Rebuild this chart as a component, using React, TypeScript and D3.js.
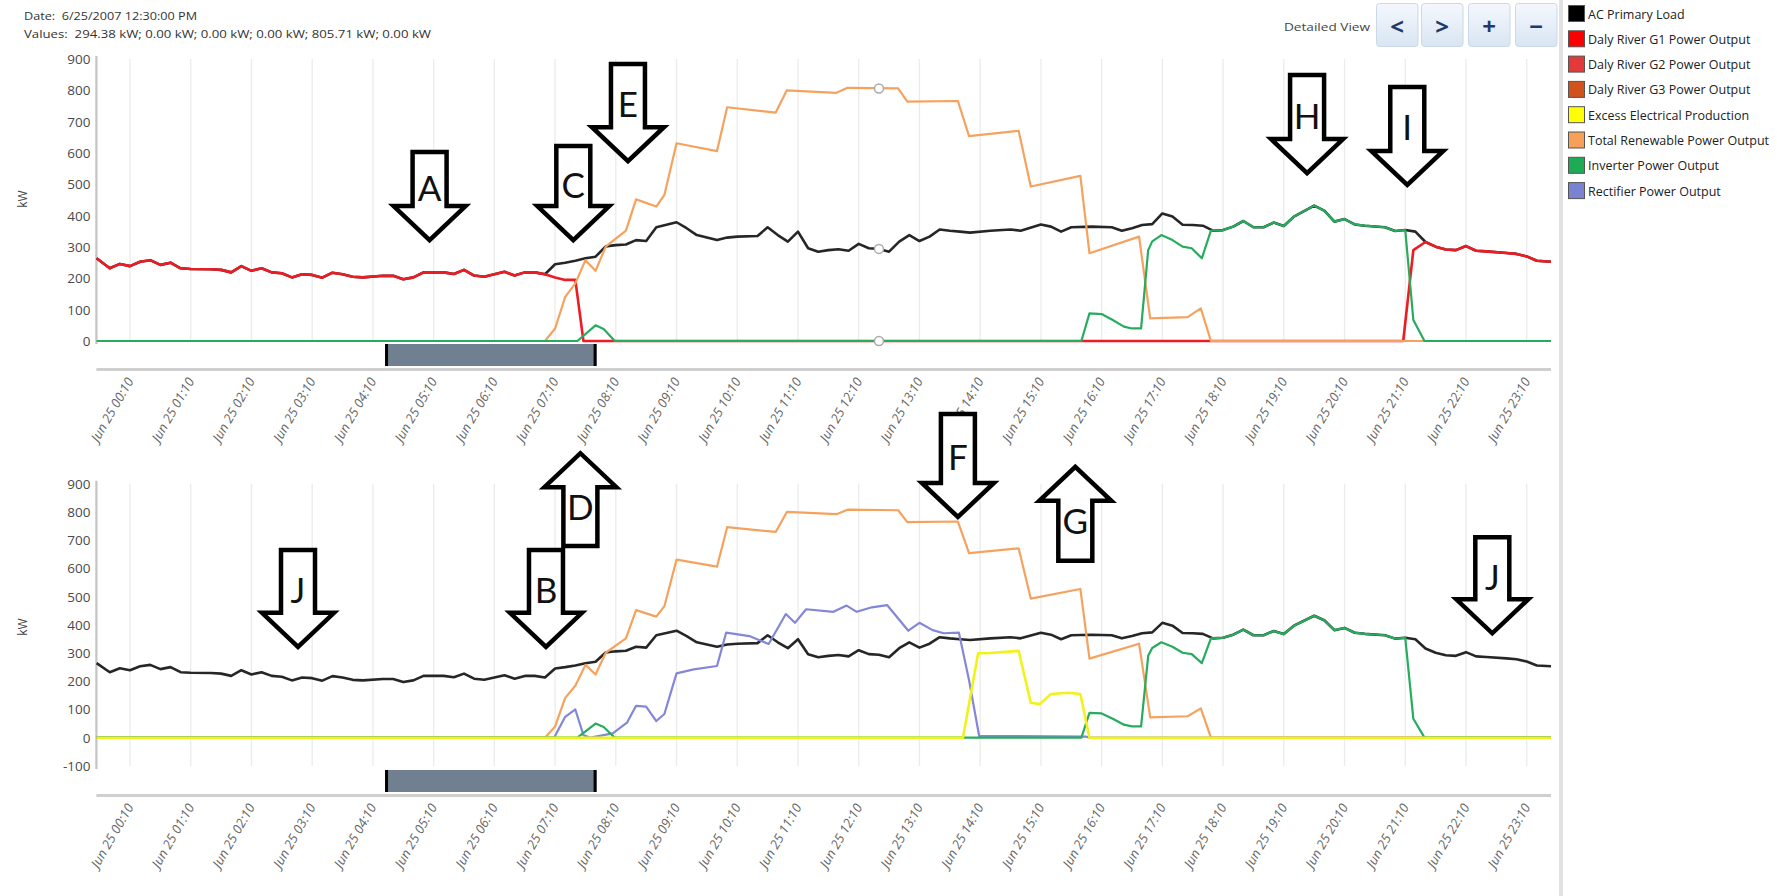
import React from "react";
import * as d3 from "d3";

type Pt = [number, number];

// ---------- DATA (time in minutes from midnight Jun 25, value in kW) ----------
const tickMinutes = d3.range(10, 1400, 60);
const tickLabels = [
  "Jun 25 00:10", "Jun 25 01:10", "Jun 25 02:10", "Jun 25 03:10", "Jun 25 04:10", "Jun 25 05:10",
  "Jun 25 06:10", "Jun 25 07:10", "Jun 25 08:10", "Jun 25 09:10", "Jun 25 10:10", "Jun 25 11:10",
  "Jun 25 12:10", "Jun 25 13:10", "Jun 25 14:10", "Jun 25 15:10", "Jun 25 16:10", "Jun 25 17:10",
  "Jun 25 18:10", "Jun 25 19:10", "Jun 25 20:10", "Jun 25 21:10", "Jun 25 22:10", "Jun 25 23:10",
];
const yTicksTop = [0, 100, 200, 300, 400, 500, 600, 700, 800, 900];
const yTicksBottom = [-100, 0, 100, 200, 300, 400, 500, 600, 700, 800, 900];

const acPrimaryLoad: Pt[] = [
  [-23, 264], [-10, 232], [0, 246], [10, 239], [20, 253], [30, 258], [40, 243], [50, 250], [60, 232], [70, 230],
  [90, 229], [100, 227], [110, 219], [120, 239], [130, 224], [140, 232], [150, 219], [160, 216], [170, 203], [180, 213],
  [190, 211], [200, 202], [210, 218], [220, 213], [230, 205], [240, 203], [260, 208], [270, 208], [280, 197], [290, 203],
  [300, 219], [320, 219], [330, 214], [340, 227], [350, 209], [360, 205], [380, 221], [390, 209], [400, 219], [410, 219],
  [420, 213], [430, 245], [440, 250], [450, 256], [460, 264], [470, 269], [480, 302], [490, 306], [500, 308], [510, 322],
  [520, 319], [530, 363], [550, 379], [560, 360], [570, 338], [590, 322], [600, 330], [610, 333], [630, 335], [640, 363],
  [650, 338], [660, 317], [670, 349], [680, 296], [690, 285], [700, 290], [710, 293], [720, 288], [730, 310], [740, 296],
  [750, 294], [760, 285], [770, 317], [780, 338], [790, 319], [800, 333], [810, 356], [820, 352], [830, 349], [840, 346],
  [860, 352], [880, 356], [890, 352], [910, 372], [920, 365], [930, 349], [940, 363], [960, 365], [980, 363], [990, 352],
  [1000, 360], [1010, 370], [1020, 373], [1030, 407], [1040, 397], [1050, 371], [1060, 370], [1070, 368], [1080, 352],
  [1090, 354], [1100, 365], [1110, 383], [1120, 363], [1130, 363], [1140, 378], [1150, 367], [1160, 397], [1180, 432],
  [1190, 416], [1200, 381], [1210, 389], [1220, 372], [1230, 368], [1250, 363], [1260, 351], [1270, 354], [1280, 349],
  [1290, 316], [1300, 301], [1310, 292], [1320, 290], [1330, 303], [1340, 288], [1350, 286], [1370, 281], [1380, 278],
  [1390, 270], [1400, 256], [1414, 253],
];

const dalyRiverG1: Pt[] = [
  [-23, 264], [-10, 232], [0, 246], [10, 239], [20, 253], [30, 258], [40, 243], [50, 250], [60, 232], [70, 230],
  [90, 229], [100, 227], [110, 219], [120, 239], [130, 224], [140, 232], [150, 219], [160, 216], [170, 203], [180, 213],
  [190, 211], [200, 202], [210, 218], [220, 213], [230, 205], [240, 203], [260, 208], [270, 208], [280, 197], [290, 203],
  [300, 219], [320, 219], [330, 214], [340, 227], [350, 209], [360, 205], [380, 221], [390, 209], [400, 219], [410, 219],
  [420, 213], [430, 203], [440, 195], [450, 195], [458, 0], [1268, 0], [1278, 290], [1290, 316], [1300, 301],
  [1310, 292], [1320, 290], [1330, 303], [1340, 288], [1350, 286], [1370, 281], [1380, 278], [1390, 270], [1400, 256],
  [1414, 253],
];

const totalRenewable: Pt[] = [
  [-23, 0], [420, 0], [430, 40], [440, 141], [450, 184], [460, 258], [470, 224], [480, 301], [500, 352], [510, 452],
  [530, 429], [538, 466], [550, 631], [590, 606], [600, 746], [648, 729], [659, 800], [708, 792], [719, 808], [769, 806],
  [778, 764], [828, 766], [839, 654], [888, 671], [900, 493], [949, 527], [958, 280], [1007, 333], [1018, 72],
  [1055, 76], [1068, 104], [1078, 0], [1414, 0],
];

const inverterOutput: Pt[] = [
  [-23, 0], [452, 0], [470, 50], [478, 38], [489, 0], [950, 0], [958, 88], [970, 86], [981, 67], [992, 46], [1000, 40],
  [1009, 40], [1016, 290], [1020, 318], [1029, 338], [1040, 322], [1050, 301], [1059, 296], [1069, 264], [1078, 352],
  [1090, 354], [1100, 365], [1110, 383], [1120, 363], [1130, 363], [1140, 378], [1150, 367], [1160, 397], [1180, 432],
  [1190, 416], [1200, 381], [1210, 389], [1220, 372], [1230, 368], [1250, 363], [1260, 351], [1270, 354], [1278, 67],
  [1289, 0], [1414, 0],
];

const rectifierOutput: Pt[] = [
  [-23, 0], [429, 0], [440, 74], [450, 100], [458, 9], [465, 0], [487, 15], [501, 53], [510, 113], [520, 110],
  [530, 59], [538, 84], [550, 228], [567, 242], [590, 254], [599, 372], [622, 360], [641, 332], [658, 438], [667, 407],
  [678, 455], [705, 446], [718, 468], [728, 446], [743, 462], [758, 470], [779, 379], [790, 407], [803, 381], [814, 370],
  [829, 372], [839, 204], [849, 6], [954, 4], [958, 0], [1414, 0],
];

const excessProduction: Pt[] = [
  [-23, 0], [833, 0], [848, 299], [860, 300], [879, 305], [888, 308], [900, 124], [909, 119], [920, 155], [937, 159],
  [949, 155], [958, 0], [1414, 0],
];

const cursorMinute = 750; // 12:30
const cursorValues = [806, 294, 0];
const sliderWindow = [262, 471];

const headerDate = "6/25/2007 12:30:00 PM";
const headerValues = "294.38 kW; 0.00 kW; 0.00 kW; 0.00 kW; 805.71 kW; 0.00 kW";

const legendLabels = [
  "AC Primary Load", "Daly River G1 Power Output", "Daly River G2 Power Output", "Daly River G3 Power Output",
  "Excess Electrical Production", "Total Renewable Power Output", "Inverter Power Output", "Rectifier Power Output",
];
const legendColors = ["#000000", "#ff0000", "#e23a3a", "#d2521e", "#ffff00", "#f7a05a", "#1dab55", "#7a82d2"];

type Arrow = { letter: string; dir: "down" | "up"; t: number; tail: number; tip: number };
const arrowsTop: Arrow[] = [
  { letter: "A", dir: "down", t: 306, tail: 603, tip: 322 },
  { letter: "C", dir: "down", t: 448, tail: 622, tip: 322 },
  { letter: "E", dir: "down", t: 502, tail: 884, tip: 574 },
  { letter: "H", dir: "down", t: 1173, tail: 849, tip: 536 },
  { letter: "I", dir: "down", t: 1272, tail: 811, tip: 498 },
];
const arrowsBottom: Arrow[] = [
  { letter: "D", dir: "up", t: 455, tail: 679, tip: 1008 },
  { letter: "B", dir: "down", t: 421, tail: 665, tip: 322 },
  { letter: "J", dir: "down", t: 176, tail: 665, tip: 322 },
  { letter: "F", dir: "down", t: 828, tail: 1147, tip: 782 },
  { letter: "G", dir: "up", t: 944, tail: 627, tip: 960 },
  { letter: "J", dir: "down", t: 1356, tail: 710, tip: 370 },
];

// ---------- LAYOUT ----------
const W = 1777;
const H = 896;
const FONT = "'Open Sans', 'Noto Sans', sans-serif";
const x = d3.scaleLinear().domain([-23.2, 1414]).range([96.4, 1551]);

const COL = {
  load: "#262626",
  g1: "#ec1c24",
  ren: "#f5a25e",
  inv: "#27ac5e",
  rect: "#8486d8",
  exc: "#f2f21a",
};

type SeriesDef = { data: Pt[]; color: string; width: number };

function ArrowMark({ a, y }: { a: Arrow; y: d3.ScaleLinear<number, number> }) {
  const cx = x(a.t);
  const yTail = y(a.tail);
  const yTip = y(a.tip);
  const s = a.dir === "down" ? 1 : -1;
  const headLen = 34;
  const hw = 36;
  const sw = 17;
  const yHead = yTip - s * headLen;
  const pts: Pt[] = [
    [cx - sw, yTail], [cx + sw, yTail], [cx + sw, yHead], [cx + hw, yHead],
    [cx, yTip], [cx - hw, yHead], [cx - sw, yHead],
  ];
  const cy = (yTail + yHead) / 2 + s * 9;
  return (
    <g>
      <polygon points={pts.map((p) => p.join(",")).join(" ")} fill="#fff" stroke="#000" strokeWidth={4.5} strokeLinejoin="miter" />
      <text x={cx} y={cy + 12.5} textAnchor="middle" fontFamily="Lato, 'Open Sans', sans-serif" fontSize={35} fill="#111">
        {a.letter}
      </text>
    </g>
  );
}

function Chart(props: {
  yDomain: [number, number];
  yRange: [number, number];
  series: SeriesDef[];
  yTicks: number[];
  arrows: Arrow[];
  markers: boolean;
  sliderTop: number;
  ruleY: number;
  labelY: number;
  kwY: number;
}) {
  const y = d3.scaleLinear().domain(props.yDomain).range(props.yRange);
  const line = d3.line<Pt>().x((d) => x(d[0])).y((d) => y(d[1]));
  const [yb, yt] = props.yRange;
  const [x0, x1] = x.range();
  return (
    <g>
      {tickMinutes.map((m) => (
        <line key={m} x1={x(m)} x2={x(m)} y1={yt} y2={yb} stroke="#ebebeb" strokeWidth={1.3} />
      ))}
      <line x1={x0} x2={x0} y1={yt - 3} y2={yb + 3} stroke="#c4c4c4" strokeWidth={2.2} />
      {props.yTicks.map((v) => (
        <text key={v} x={x0 - 6} y={y(v) + 5} textAnchor="end" fontFamily={FONT} fontSize={13.5} fill="#4a4a4a">
          {v}
        </text>
      ))}
      <text transform={`translate(27,${props.kwY}) rotate(-90)`} textAnchor="middle" fontFamily={FONT} fontSize={12} fill="#444">
        kW
      </text>
      {props.series.map((s, i) => (
        <path key={i} d={line(s.data) || ""} fill="none" stroke={s.color} strokeWidth={s.width} strokeLinejoin="round" />
      ))}
      {props.markers &&
        cursorValues.map((v, i) => (
          <circle key={i} cx={x(cursorMinute)} cy={y(v)} r={4.5} fill="#fff" stroke="#aaa" strokeWidth={1.5} />
        ))}
      <rect x={x(sliderWindow[0])} y={props.sliderTop} width={x(sliderWindow[1]) - x(sliderWindow[0])} height={22} fill="#708090" />
      <line x1={x(sliderWindow[0]) + 1.5} x2={x(sliderWindow[0]) + 1.5} y1={props.sliderTop} y2={props.sliderTop + 22} stroke="#000" strokeWidth={3} />
      <line x1={x(sliderWindow[1]) - 1.5} x2={x(sliderWindow[1]) - 1.5} y1={props.sliderTop} y2={props.sliderTop + 22} stroke="#000" strokeWidth={3} />
      <line x1={x0} x2={x1} y1={props.ruleY} y2={props.ruleY} stroke="#cfcfcf" strokeWidth={3} />
      {tickMinutes.map((m, i) => (
        <text
          key={m}
          transform={`translate(${x(m) + 4},${props.labelY}) rotate(-60)`}
          textAnchor="end"
          fontFamily={FONT}
          fontStyle="italic"
          fontSize={13}
          fill="#666"
        >
          {tickLabels[i]}
        </text>
      ))}
      {props.arrows.map((a, i) => (
        <ArrowMark key={i} a={a} y={y} />
      ))}
    </g>
  );
}

export default function App() {
  const topSeries: SeriesDef[] = [
    { data: acPrimaryLoad, color: COL.load, width: 2.6 },
    { data: dalyRiverG1, color: COL.g1, width: 2.6 },
    { data: totalRenewable, color: COL.ren, width: 2.2 },
    { data: inverterOutput, color: COL.inv, width: 2.2 },
  ];
  const bottomSeries: SeriesDef[] = [
    { data: acPrimaryLoad, color: COL.load, width: 2.6 },
    { data: totalRenewable, color: COL.ren, width: 2.2 },
    { data: rectifierOutput, color: COL.rect, width: 2.2 },
    { data: inverterOutput, color: COL.inv, width: 2.2 },
    { data: excessProduction, color: COL.exc, width: 2.6 },
  ];
  const buttonsX = [1376, 1421, 1468, 1515];
  const buttonSyms = ["<", ">", "+", "\u2212"];
  return (
    <svg width={W} height={H} style={{ position: "absolute", left: 0, top: 0, background: "#fff" }}>
      <defs>
        <linearGradient id="btn" x1="0" y1="0" x2="0" y2="1">
          <stop offset="0" stopColor="#f4f8fd" />
          <stop offset="1" stopColor="#d9e5f3" />
        </linearGradient>
      </defs>
      <rect width={W} height={H} fill="#fff" />
      <text x={24} y={19.5} fontFamily={FONT} fontSize={11.5} fill="#333" style={{ whiteSpace: "pre" }} textLength={173} lengthAdjust="spacingAndGlyphs">
        {"Date:  " + headerDate}
      </text>
      <text x={24} y={37.5} fontFamily={FONT} fontSize={11.5} fill="#333" style={{ whiteSpace: "pre" }} textLength={407} lengthAdjust="spacingAndGlyphs">
        {"Values:  " + headerValues}
      </text>

      <Chart
        yDomain={[0, 900]}
        yRange={[341, 59]}
        series={topSeries}
        yTicks={yTicksTop}
        arrows={arrowsTop}
        markers={true}
        sliderTop={344}
        ruleY={369.5}
        labelY={381}
        kwY={199}
      />
      <Chart
        yDomain={[-100, 900]}
        yRange={[765.9, 483.7]}
        series={bottomSeries}
        yTicks={yTicksBottom}
        arrows={arrowsBottom}
        markers={false}
        sliderTop={770}
        ruleY={795.5}
        labelY={807}
        kwY={627}
      />

      <text x={1284} y={30.5} fontFamily={FONT} fontSize={11.5} fill="#444" textLength={86} lengthAdjust="spacingAndGlyphs">
        Detailed View
      </text>
      {buttonsX.map((bx, i) => (
        <g key={i}>
          <rect x={bx + 0.5} y={3.5} width={41.5} height={43} rx={3} fill="url(#btn)" stroke="#cbd8e8" />
          <text x={bx + 21} y={35} textAnchor="middle" fontFamily={FONT} fontWeight={700} fontSize={24} fill="#1f3a6b">
            {buttonSyms[i]}
          </text>
        </g>
      ))}

      <rect x={1559} y={0} width={4} height={H} fill="#e2e2e2" />
      {legendLabels.map((lab, i) => {
        const cy = 14 + i * 25.3;
        return (
          <g key={lab}>
            <rect x={1568.5} y={cy - 8.5} width={16} height={16} fill={legendColors[i]} stroke="#555" strokeWidth={1} />
            <text x={1588} y={cy + 4.5} fontFamily={FONT} fontSize={12.5} fill="#222">
              {lab}
            </text>
          </g>
        );
      })}
    </svg>
  );
}
